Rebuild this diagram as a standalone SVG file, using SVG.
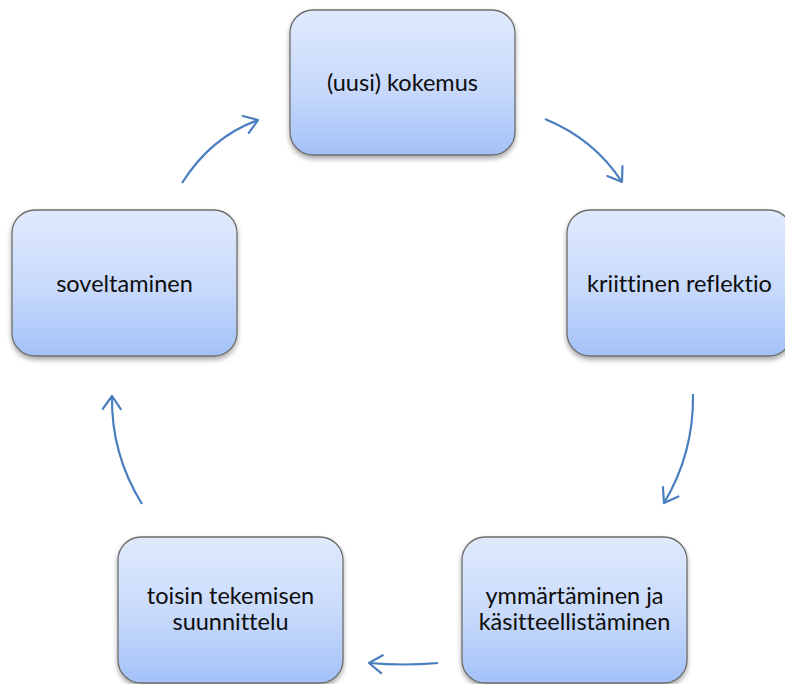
<svg xmlns="http://www.w3.org/2000/svg" width="785" height="684" viewBox="0 0 785 684">
<defs>
<linearGradient id="g" x1="0" y1="0" x2="0" y2="1">
<stop offset="0" stop-color="#e0eafc"/>
<stop offset="0.55" stop-color="#c7d9fb"/>
<stop offset="1" stop-color="#a3c1f8"/>
</linearGradient>
<filter id="sh" x="-10%" y="-10%" width="120%" height="130%">
<feDropShadow dx="0" dy="3" stdDeviation="2.5" flood-color="#000" flood-opacity="0.35"/>
</filter>
<marker id="ah" markerUnits="userSpaceOnUse" markerWidth="30" markerHeight="30" refX="20" refY="15" orient="auto" viewBox="0 0 30 30">
<path d="M7,6 L20,15 L7,24" fill="none" stroke="#4a7ebf" stroke-width="2.2" stroke-linecap="round" stroke-linejoin="round"/>
</marker>
</defs>
<style>
.box{fill:url(#g);stroke:#6e6e6e;stroke-width:1.3;filter:url(#sh)}
.t{font-family:Lato,"Open Sans","Liberation Sans",sans-serif;font-size:23.5px;fill:#0d0d0d;text-anchor:middle;font-variant-ligatures:none;font-feature-settings:"liga" 0}
.c{fill:none;stroke:#4a7ebf;stroke-width:2.2;marker-end:url(#ah)}
</style>
<rect width="785" height="684" fill="#fff"/>
<g id="connectors">
<path class="c" d="M545,119 Q594,139 622,182"/>
<path class="c" d="M693,394 Q694,453 664,503"/>
<path class="c" d="M438,663 Q403,666 369,663"/>
<path class="c" d="M142,504 Q111,454 112,396"/>
<path class="c" d="M182,183 Q211,137 258,120"/>
</g>
<g id="n1"><rect class="box" x="290" y="10" width="225" height="145" rx="23"/><text class="t" x="402.5" y="91">(uusi) kokemus</text></g>
<g id="n2"><rect class="box" x="567" y="210" width="225" height="146" rx="23"/><text class="t" x="679.5" y="292">kriittinen reflektio</text></g>
<g id="n3"><rect class="box" x="462" y="537" width="225" height="146" rx="23"/><text class="t" x="574.5" y="604">ymmärtäminen ja</text><text class="t" x="574.5" y="630">käsitteellistäminen</text></g>
<g id="n4"><rect class="box" x="118" y="537" width="225" height="146" rx="23"/><text class="t" x="230.5" y="604">toisin tekemisen</text><text class="t" x="230.5" y="630">suunnittelu</text></g>
<g id="n5"><rect class="box" x="12" y="210" width="225" height="146" rx="23"/><text class="t" x="124.5" y="292">soveltaminen</text></g>
</svg>
